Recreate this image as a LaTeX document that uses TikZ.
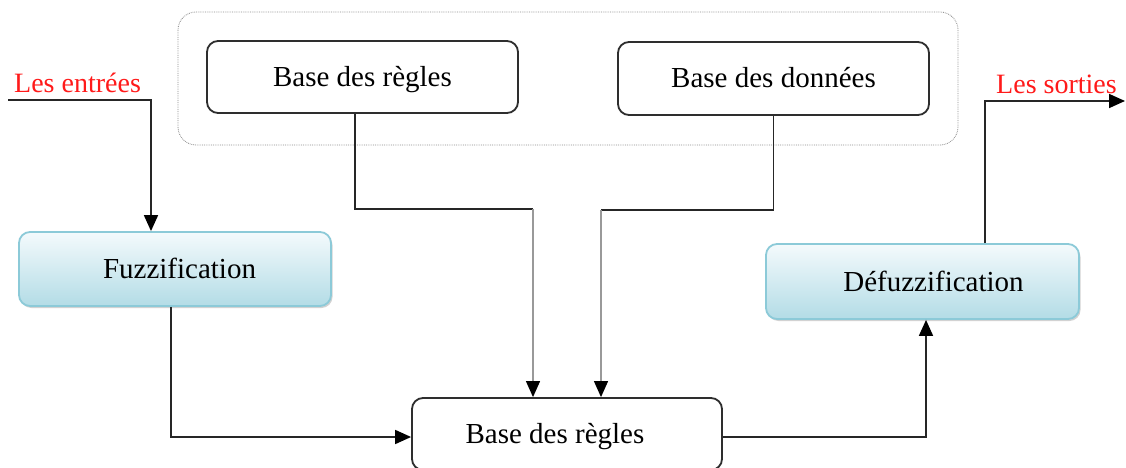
\documentclass[tikz,border=0pt]{standalone}
\usepackage{fontspec}
\setmainfont{Liberation Serif}
\usetikzlibrary{arrows.meta,shadows}
\definecolor{boxline}{HTML}{2E2E2E}
\definecolor{fuzzline}{HTML}{8CCAD8}
\definecolor{fuzztop}{HTML}{F4FAFC}
\definecolor{fuzzbot}{HTML}{B3DCE6}
\definecolor{labelred}{HTML}{FF1A1A}
\tikzset{
  boxtext/.style={font=\fontsize{29}{33}\selectfont, text=black,
    text height=19pt, text depth=0pt},
  plainbox/.style={boxtext, draw=boxline, line width=1.8pt, rounded corners=11pt,
    fill=white, minimum width=311pt, minimum height=72pt, inner sep=0pt},
  fuzzbox/.style={boxtext, draw=fuzzline, line width=1.8pt, rounded corners=11pt,
    top color=fuzztop, bottom color=fuzzbot, minimum width=312pt, minimum height=74pt,
    inner sep=0pt,
    drop shadow={shadow xshift=1.5pt, shadow yshift=-2pt, opacity=0.35}},
  nudge/.style={execute at begin node={\hspace*{#1}}},
  pullback/.style={execute at end node={\hspace*{#1}}},
  redlabel/.style={font=\fontsize{28}{32}\selectfont, text=labelred, inner sep=0pt},
  tip/.style={-{Triangle[length=16pt,width=14pt,fill=black,color=black]}},
  wire/.style={draw=black!85, line width=1.7pt},
  link/.style={wire, tip},
  thinlink/.style={draw=black!40, line width=1.2pt, tip},
  container/.style={draw=black!45, densely dotted, line width=0.8pt, rounded corners=18pt}
}
\begin{document}
\begin{tikzpicture}[x=1pt,y=-1pt]
  \clip (0,0) rectangle (1126,468);
  \fill[white] (0,0) rectangle (1126,468);

  % knowledge base group
  \draw[container] (178,12) rectangle (958,145);
  \node[plainbox] (regles) at (362.5,77) {Base des règles};
  \node[plainbox, minimum height=73pt] (donnees) at (773.5,78.5) {Base des données};

  % fuzzification / defuzzification
  \node[fuzzbox, nudge=9pt] (fuzz) at (175,269) {Fuzzification};
  \node[fuzzbox, nudge=22pt, minimum width=313pt, minimum height=75pt] (defuzz) at (922.5,281.5) {Défuzzification};

  % inference block (runs past the lower edge)
  \node[plainbox, pullback=24pt, minimum width=310pt] (infer) at (567,434) {Base des règles};

  % free ends and bends
  \coordinate (inStart) at (8,100);
  \coordinate (outEnd) at (1125,101);
  \coordinate (bendA) at (533,209);
  \coordinate (bendB) at (601,210);

  % labels
  \node[redlabel, anchor=base west] (entrees) at (14,93) {Les entrées};
  \node[redlabel, anchor=base west] (sorties) at (996,94) {Les sorties};

  % connectors
  \draw[link] (inStart) -| ([xshift=-24pt]fuzz.north);
  \draw[link] ([xshift=-4pt]fuzz.south) |- ([yshift=-3pt]infer.west);
  \draw[link] ([yshift=-3pt]infer.east) -| ([xshift=3.5pt]defuzz.south);
  \draw[link] ([xshift=62.5pt]defuzz.north) |- (outEnd);
  \draw[wire] ([xshift=-7.5pt]regles.south) |- (bendA);
  \draw[thinlink] (bendA) -- ([xshift=-34pt]infer.north);
  \draw[wire] (donnees.south) |- (bendB);
  \draw[thinlink] (bendB) -- ([xshift=34pt]infer.north);
\end{tikzpicture}
\end{document}
